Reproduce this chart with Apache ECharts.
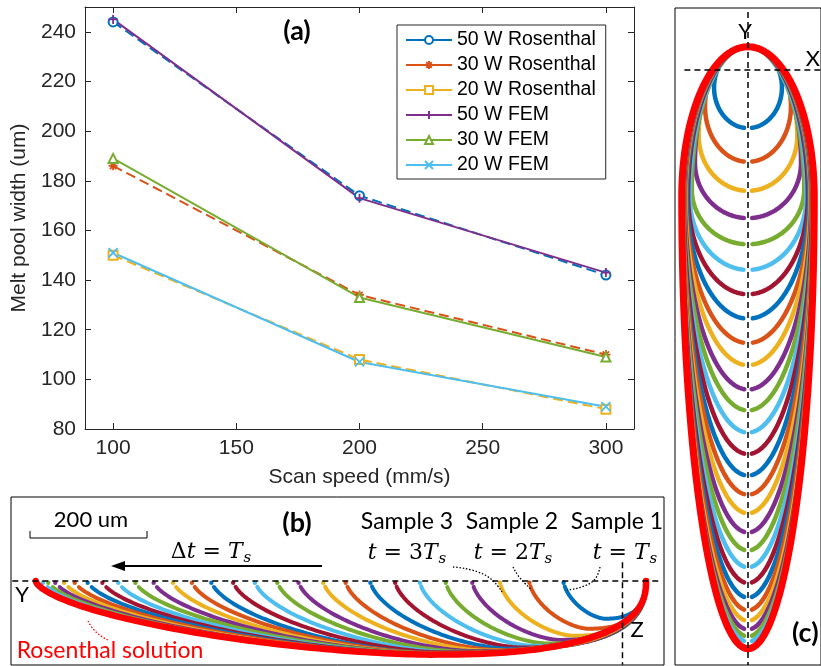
<!DOCTYPE html>
<html>
<head>
<meta charset="utf-8">
<script src="https://cdn.jsdelivr.net/npm/echarts@6/dist/echarts.min.js"></script>
<style>
  html, body { margin: 0; padding: 0; background: #ffffff; }
  #chart { width: 821px; height: 666px; }
</style>
</head>
<body>
<div id="chart"></div>
<script>
// (a) melt pool width (um) against scan speed (mm/s)
const scanSpeeds = [100, 200, 300];
const rosenthal50W = [244, 174, 142];
const rosenthal30W = [186, 134, 110];
const rosenthal20W = [150, 108, 88];
const fem50W = [245, 173, 143];
const fem30W = [189, 133, 109];
const fem20W = [151, 107, 89];
const speedTicks = [100, 150, 200, 250, 300];
const widthTicks = [80, 100, 120, 140, 160, 180, 200, 220, 240];

// (b), (c) melt pool boundary snapshots taken every T_s (um)
const poolLength = [140, 198, 248, 295, 340, 384, 426, 468, 510, 548, 590, 626, 664,
  701, 738, 771, 803, 836, 867, 896, 923, 948, 970, 988, 1003, 1015, 1024];
const poolHalfWidth = [64, 81, 93, 100, 106, 110, 113, 115, 117, 118, 119, 120, 121,
  121, 122, 122, 123, 123, 123, 124, 124, 124, 124, 125, 125, 125, 125];
const rosenthalLength = [1036];
const rosenthalHalfWidth = [125];

const snapshotColors = ['#0072BD', '#D95319', '#EDB120', '#7E2F8E', '#77AC30', '#4DBEEE', '#A2142F'];

// boundary shape settings (um)
const FRONT_OFFSET = 40;      // pool front ahead of the beam centre
const SIDE_FRONT_CAP = 368;   // front half-length limit, longitudinal section
const TOP_FRONT_CAP = 258;    // front half-length limit, top view
const TOP_TAIL_MIN = 95;      // shortest rear half-length of a growing pool, top view

const AXIS_COLOR = '#262626';
const SANS = '"Liberation Sans", Arial, Helvetica, sans-serif';
const LABEL_FONT = 'Lato, "Open Sans", sans-serif';
const MATH_FONT = '"DejaVu Serif", serif';

// outline of one pool: list of [s, w, isRear] from the front to the tail,
// s measured backwards from the beam centre, w the local half-width / depth
function poolOutline(L, W, af, pFront, pBack, n) {
  const ab = L - af;
  const sm = -FRONT_OFFSET + af;
  const pts = [];
  for (let k = 0; k <= n; k++) {
    const th = Math.PI * k / n;
    const c = Math.cos(th), s = Math.sin(th);
    const a = c >= 0 ? af : ab;
    const p = c >= 0 ? pFront : pBack;
    const along = sm - a * Math.sign(c) * Math.pow(Math.abs(c), 2 / p);
    const w = W * Math.pow(Math.abs(s), 2 / p);
    pts.push([along, w, c < 0]);
  }
  return pts;
}

// longitudinal section: x = -s, depth = w
function sideRender(lineWidth, colorFn, withDot) {
  return function (params, api) {
    const L = api.value(0), W = api.value(1), idx = api.value(2);
    const color = colorFn(idx);
    const af = Math.min(L / 2, SIDE_FRONT_CAP);
    const outline = poolOutline(L, W, af, 2.5, 1.6, 160);
    const pts = [];
    outline.forEach(function (q) {
      if (withDot && q[2] && q[1] < 9) return;
      pts.push(api.coord([-q[0], q[1]]));
    });
    const children = [{
      type: 'polyline',
      shape: { points: pts },
      style: { stroke: color, lineWidth: lineWidth, fill: null, lineCap: 'round', lineJoin: 'round' }
    }];
    if (withDot) {
      const tail = outline[outline.length - 1];
      const p = api.coord([-tail[0], 3]);
      children.push({ type: 'circle', shape: { cx: p[0], cy: p[1], r: 2.2 }, style: { fill: color } });
    }
    return { type: 'group', children: children };
  };
}

// top view: x = +/- w, y = s
function topRender(lineWidth, colorFn, gap) {
  return function (params, api) {
    const L = api.value(0), W = api.value(1), idx = api.value(2);
    const color = colorFn(idx);
    const af = Math.min(TOP_FRONT_CAP, Math.max(L / 2, L - TOP_TAIL_MIN));
    const outline = poolOutline(L, W, af, 2, 2, 160)
      .filter(function (q) { return !(q[2] && q[1] < gap); });
    const left = outline.map(function (q) { return api.coord([-q[1], q[0]]); }).reverse();
    const right = outline.map(function (q) { return api.coord([q[1], q[0]]); });
    const style = { stroke: color, lineWidth: lineWidth, fill: null, lineCap: 'round', lineJoin: 'round' };
    return {
      type: 'group',
      children: [
        { type: 'polyline', shape: { points: left }, style: style },
        { type: 'polyline', shape: { points: right }, style: style }
      ]
    };
  };
}

const snapshotData = poolLength.map(function (L, i) { return [L, poolHalfWidth[i], i]; });
const rosenthalData = rosenthalLength.map(function (L, i) { return [L, rosenthalHalfWidth[i], 0]; });
const cycleColor = function (i) { return snapshotColors[i % snapshotColors.length]; };
const red = function () { return '#FF0000'; };

// guide lines (um)
const sideSurface = [[-1036, 0], [67, 0]];
const sideBeamAxis = [[0, -32], [0, 142]];
const topBeamAxis = [[0, -100], [0, 1024]];
const topCrossAxis = [[-120, 0], [137, 0]];

function guide(data, xi, yi) {
  return {
    type: 'line', xAxisIndex: xi, yAxisIndex: yi, data: data, symbol: 'none', silent: true,
    lineStyle: { color: '#000000', width: 1.5, type: [6, 4] }, z: 5
  };
}

function mk(values) { return scanSpeeds.map(function (x, i) { return [x, values[i]]; }); }

const PLUS = 'path://M0,-10L0,10M-10,0L10,0';
const CROSS = 'path://M-10,-10L10,10M-10,10L10,-10';
const STAR = 'path://M0,-10L0,10M-10,0L10,0M-7,-7L7,7M-7,7L7,-7';

function widthSeries(name, values, color, dashed, symbol) {
  return {
    name: name, type: 'line', data: mk(values), xAxisIndex: 0, yAxisIndex: 0,
    symbol: symbol, symbolSize: 9, showAllSymbol: true,
    lineStyle: { color: color, width: 2, type: dashed ? [10, 5] : 'solid' },
    itemStyle: { color: color, borderColor: color, borderWidth: 1.8 },
    emphasis: { disabled: true }
  };
}

function frameAxisX(grid, min, max, pos, opts) {
  return Object.assign({
    type: 'value', gridIndex: grid, min: min, max: max, position: pos,
    axisLine: { show: true, onZero: false, lineStyle: { color: AXIS_COLOR, width: 1 } },
    axisTick: { show: true, inside: true, length: 6, customValues: speedTicks, lineStyle: { color: AXIS_COLOR } },
    axisLabel: { show: false },
    splitLine: { show: false }
  }, opts || {});
}

function frameAxisY(grid, pos, opts) {
  return Object.assign({
    type: 'value', gridIndex: grid, min: 80, max: 250, position: pos,
    axisLine: { show: true, onZero: false, lineStyle: { color: AXIS_COLOR, width: 1 } },
    axisTick: { show: true, inside: true, length: 6, customValues: widthTicks, lineStyle: { color: AXIS_COLOR } },
    axisLabel: { show: false },
    splitLine: { show: false }
  }, opts || {});
}

function txt(x, y, text, size, opts) {
  return {
    type: 'text', x: x, y: y, silent: true, z: 50,
    style: Object.assign({ text: text, font: size + 'px ' + LABEL_FONT, fill: '#000000', align: 'center', verticalAlign: 'middle' }, opts || {})
  };
}

function mathTxt(x, y, parts) {
  return {
    type: 'text', x: x, y: y, silent: true, z: 50,
    style: {
      text: parts, align: 'center', verticalAlign: 'middle', fill: '#000',
      font: '22px ' + MATH_FONT,
      rich: {
        i: { fontFamily: MATH_FONT, fontStyle: 'italic', fontSize: 22, lineHeight: 28, verticalAlign: 'middle' },
        n: { fontFamily: MATH_FONT, fontSize: 22, lineHeight: 28 },
        s: { fontFamily: MATH_FONT, fontStyle: 'italic', fontSize: 15, lineHeight: 28, verticalAlign: 'bottom', padding: [0, 0, 0, 1] }
      }
    }
  };
}

function dotted(points, color) {
  return {
    type: 'polyline', silent: true, z: 50,
    shape: { points: points, smooth: 0.5 },
    style: { stroke: color || '#000', lineWidth: 1.3, lineDash: [1.5, 1.8], fill: null }
  };
}

const legendNames = ['50 W Rosenthal', '30 W Rosenthal', '20 W Rosenthal', '50 W FEM', '30 W FEM', '20 W FEM'];

const chart = echarts.init(document.getElementById('chart'), null, { renderer: 'canvas' });

chart.setOption({
  backgroundColor: '#ffffff',
  animation: false,
  grid: [
    { left: 85, top: 7, width: 549, height: 422 },
    { left: 11, top: 497, width: 653, height: 168, show: true, borderColor: '#000', borderWidth: 1, backgroundColor: 'transparent' },
    { left: 675, top: 8, width: 160, height: 657, show: true, borderColor: '#000', borderWidth: 1, backgroundColor: 'transparent' }
  ],
  legend: {
    orient: 'vertical', left: 397, top: 25,
    itemWidth: 46, itemHeight: 10, itemGap: 5,
    padding: [5, 10, 4, 8],
    borderColor: AXIS_COLOR, borderWidth: 1, backgroundColor: '#ffffff',
    textStyle: { fontFamily: SANS, fontSize: 19.5, color: '#000' },
    data: legendNames.map(function (n) { return { name: n, lineStyle: { type: 'solid' } }; })
  },
  xAxis: [
    frameAxisX(0, 88.6, 311.4, 'bottom', {
      name: 'Scan speed (mm/s)', nameLocation: 'middle', nameGap: 38,
      nameTextStyle: { fontFamily: SANS, fontSize: 21, color: AXIS_COLOR },
      axisLabel: { show: true, customValues: speedTicks, fontFamily: SANS, fontSize: 21, color: AXIS_COLOR, margin: 9 }
    }),
    frameAxisX(0, 88.6, 311.4, 'top'),
    { type: 'value', gridIndex: 1, min: -1038.2, max: 70.5, show: false },
    { type: 'value', gridIndex: 2, min: -137.7, max: 137.7, show: false }
  ],
  yAxis: [
    frameAxisY(0, 'left', {
      name: 'Melt pool width (um)', nameLocation: 'middle', nameGap: 46,
      nameTextStyle: { fontFamily: SANS, fontSize: 21, color: AXIS_COLOR },
      axisLabel: { show: true, customValues: widthTicks, fontFamily: SANS, fontSize: 21, color: AXIS_COLOR, margin: 9 }
    }),
    frameAxisY(0, 'right'),
    { type: 'value', gridIndex: 1, min: -142.6, max: 142.6, inverse: true, show: false },
    { type: 'value', gridIndex: 2, min: -106.7, max: 1024.1, inverse: true, show: false }
  ],
  series: [
    widthSeries('50 W Rosenthal', rosenthal50W, '#0072BD', true, 'emptyCircle'),
    widthSeries('30 W Rosenthal', rosenthal30W, '#D95319', true, STAR),
    widthSeries('20 W Rosenthal', rosenthal20W, '#EDB120', true, 'emptyRect'),
    widthSeries('50 W FEM', fem50W, '#7E2F8E', false, PLUS),
    widthSeries('30 W FEM', fem30W, '#77AC30', false, 'emptyTriangle'),
    widthSeries('20 W FEM', fem20W, '#4DBEEE', false, CROSS),

    // (b) longitudinal section
    { type: 'custom', xAxisIndex: 2, yAxisIndex: 2, data: snapshotData, clip: true, silent: true,
      renderItem: sideRender(4, cycleColor, true), z: 2 },
    { type: 'custom', xAxisIndex: 2, yAxisIndex: 2, data: rosenthalData, clip: true, silent: true,
      renderItem: sideRender(6.5, red, false), z: 3 },
    guide(sideSurface, 2, 2),
    guide(sideBeamAxis, 2, 2),

    // (c) top view
    { type: 'custom', xAxisIndex: 3, yAxisIndex: 3, data: snapshotData, clip: true, silent: true,
      renderItem: topRender(4.5, cycleColor, 7), z: 2 },
    { type: 'custom', xAxisIndex: 3, yAxisIndex: 3, data: rosenthalData, clip: true, silent: true,
      renderItem: topRender(7, red, 0), z: 3 },
    guide(topBeamAxis, 3, 3),
    guide(topCrossAxis, 3, 3)
  ],
  graphic: [
    txt(297, 31, '(a)', 27, { font: 'bold 27px ' + LABEL_FONT }),
    txt(297, 523, '(b)', 27, { font: 'bold 27px ' + LABEL_FONT }),
    txt(792, 633, '(c)', 27, { font: 'bold 27px ' + LABEL_FONT, align: 'left' }),

    txt(91, 520, '200 um', 22),
    { type: 'polyline', silent: true, z: 50, shape: { points: [[30, 531], [30, 538], [147, 538], [147, 531]] },
      style: { stroke: '#000', lineWidth: 1, fill: null } },

    mathTxt(211, 552, '{n|Δ}{i|t}{n| = }{i|T}{s|s}'),
    { type: 'line', silent: true, z: 50, shape: { x1: 322, y1: 566, x2: 122, y2: 566 }, style: { stroke: '#000', lineWidth: 1.8 } },
    { type: 'polygon', silent: true, z: 50, shape: { points: [[111, 566], [125, 561], [125, 571]] }, style: { fill: '#000' } },

    txt(22, 595, 'Y', 22),
    txt(637, 630, 'Z', 22),
    txt(110, 651, 'Rosenthal solution', 23, { fill: '#FF0000' }),
    dotted([[88, 621], [96, 632], [108, 640]], '#FF0000'),

    txt(407, 522, 'Sample 3', 23),
    txt(512, 522, 'Sample 2', 23),
    txt(617, 522, 'Sample 1', 23),
    mathTxt(407, 553, '{i|t}{n| = 3}{i|T}{s|s}'),
    mathTxt(513, 553, '{i|t}{n| = 2}{i|T}{s|s}'),
    mathTxt(625, 553, '{i|t}{n| = }{i|T}{s|s}'),
    dotted([[453, 567], [485, 575], [502, 592]]),
    dotted([[513, 567], [520, 578], [532, 590]]),
    dotted([[600, 567], [592, 582], [567, 590]]),

    txt(745, 32, 'Y', 22),
    txt(813, 59, 'X', 22)
  ]
});
</script>
</body>
</html>
